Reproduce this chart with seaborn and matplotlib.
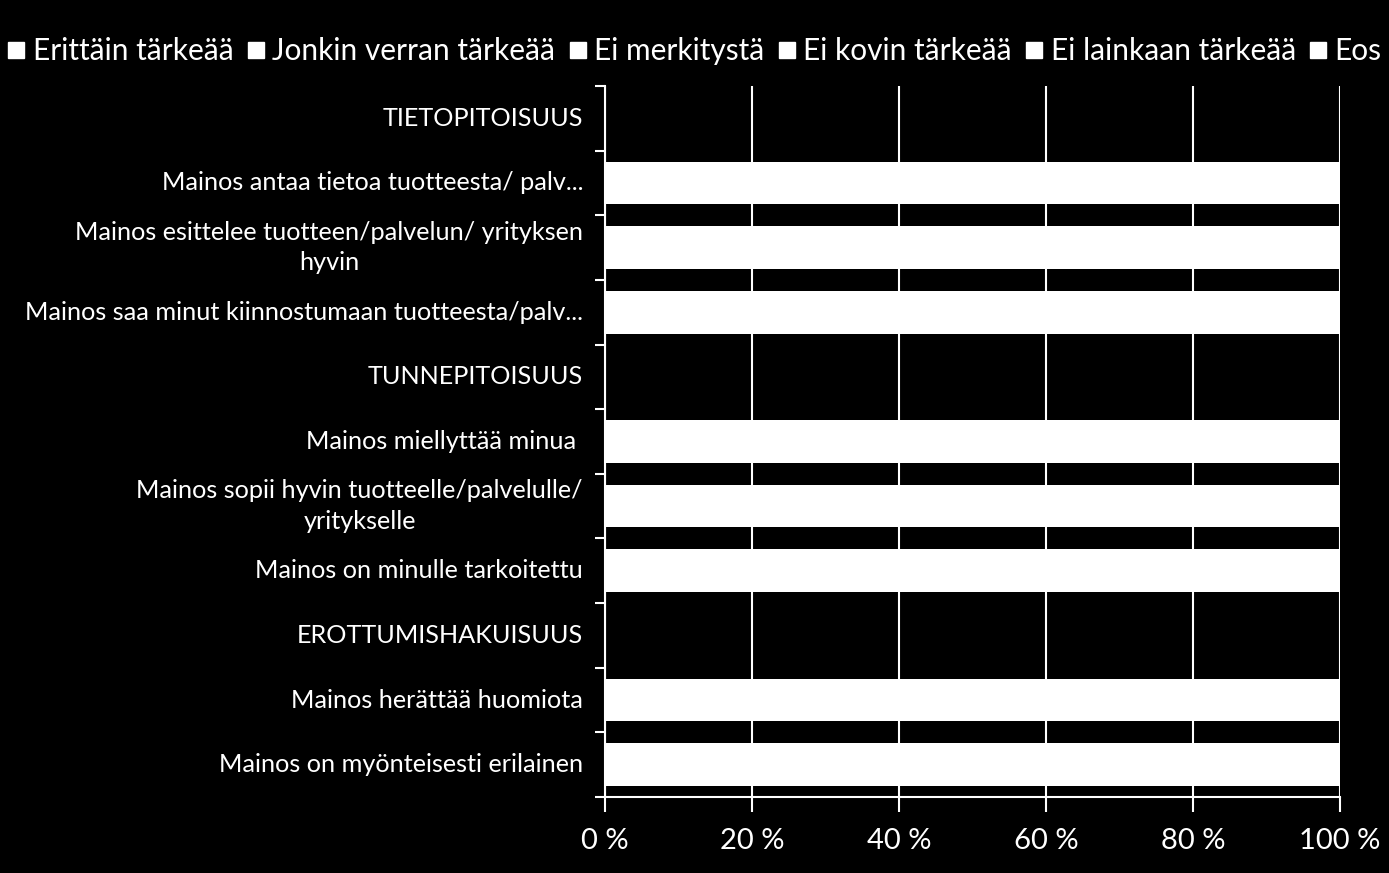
import matplotlib
matplotlib.use("Agg")
import matplotlib.pyplot as plt
import matplotlib.transforms as mtransforms
from matplotlib.lines import Line2D
import seaborn as sns
import pandas as pd
import numpy as np

rows = [
    "TIETOPITOISUUS",
    "Mainos antaa tietoa tuotteesta/ palv...",
    "Mainos esittelee tuotteen/palvelun/ yrityksen\nhyvin",
    "Mainos saa minut kiinnostumaan tuotteesta/palv...",
    "TUNNEPITOISUUS",
    "Mainos miellyttää minua ",
    "Mainos sopii hyvin tuotteelle/palvelulle/\nyritykselle",
    "Mainos on minulle tarkoitettu",
    "EROTTUMISHAKUISUUS",
    "Mainos herättää huomiota",
    "Mainos on myönteisesti erilainen",
]
items = [rows[1], rows[2], rows[3], rows[5], rows[6], rows[7], rows[9], rows[10]]
series = ["Erittäin tärkeää", "Jonkin verran tärkeää", "Ei merkitystä",
          "Ei kovin tärkeää", "Ei lainkaan tärkeää", "Eos"]
# Segment shares (%) per item; all segments are drawn white as in the reference
erittain = [48, 52, 45, 30, 40, 28, 55, 42]
jonkin   = [40, 38, 42, 45, 42, 40, 35, 40]
ei_merk  = [6, 5, 7, 12, 9, 14, 5, 9]
ei_kovin = [4, 3, 4, 9, 6, 12, 3, 6]
ei_lain  = [1, 1, 1, 3, 2, 5, 1, 2]
eos      = [1, 1, 1, 1, 1, 1, 1, 1]
xticks = [0, 20, 40, 60, 80, 100]
xticklabels = ["0 %", "20 %", "40 %", "60 %", "80 %", "100 %"]

df = pd.DataFrame({"item": items, series[0]: erittain, series[1]: jonkin,
                   series[2]: ei_merk, series[3]: ei_kovin, series[4]: ei_lain,
                   series[5]: eos})
tot = df[series].sum(axis=1)
for s in series:
    df[s] = df[s] / tot * 100

sns.set_theme(style="white")
plt.rcParams["font.family"] = ["Lato", "DejaVu Sans"]

fig = plt.figure(figsize=(13.89, 8.73), dpi=100, facecolor="black")
ax = fig.add_axes([605/1389, 1-797/873, (1340-605)/1389, (797-86)/873])
ax.set_facecolor("black")

cum = df[series].cumsum(axis=1)
for s in reversed(series):
    sns.barplot(data=cum.assign(item=df["item"]), x=s, y="item", order=rows,
                orient="h", color="white", saturation=1, width=0.66,
                edgecolor="none", linewidth=0, ax=ax, zorder=3)

ax.set_xlim(0, 100)
ax.set_ylim(len(rows)-0.5, -0.5)
ax.set_xlabel("")
ax.set_ylabel("")
ax.set_xticks(xticks)
ax.set_xticklabels(xticklabels, color="white", fontsize=21)

# category labels (drawn as text so multi-line labels can be centre-aligned)
ax.set_yticks(range(len(rows)))
ax.set_yticklabels([])
trans = mtransforms.blended_transform_factory(ax.transAxes, ax.transData)
for i, lab in enumerate(rows):
    ax.text(-22/735, i, lab, transform=trans, ha="right", va="center",
            multialignment="center", color="white", fontsize=18.2,
            linespacing=1.4)

ax.set_yticks(np.arange(-0.5, len(rows), 1), minor=True)
ax.tick_params(axis="y", which="major", length=0)
ax.tick_params(axis="y", which="minor", length=7, width=1.5, color="white", left=True)
ax.tick_params(axis="x", which="major", length=11, width=1.5, color="white",
               bottom=True, pad=11)
ax.grid(axis="x", color="white", linewidth=1.5, zorder=0)
ax.grid(axis="y", visible=False)
ax.set_axisbelow(True)
for side in ["top", "right"]:
    ax.spines[side].set_visible(False)
for side in ["left", "bottom"]:
    ax.spines[side].set_color("white")
    ax.spines[side].set_linewidth(1.5)

handles = [Line2D([], [], marker="s", linestyle="none", markersize=12,
                  markerfacecolor="white", markeredgecolor="white") for _ in series]
fig.legend(handles, series, loc="center", bbox_to_anchor=(0.5, 1-51/873), ncol=6,
           frameon=False, fontsize=21.5, labelcolor="white", handlelength=0.6,
           handletextpad=0.25, columnspacing=0.45, borderaxespad=0)

fig.savefig("out.png", dpi=100, facecolor="black")
